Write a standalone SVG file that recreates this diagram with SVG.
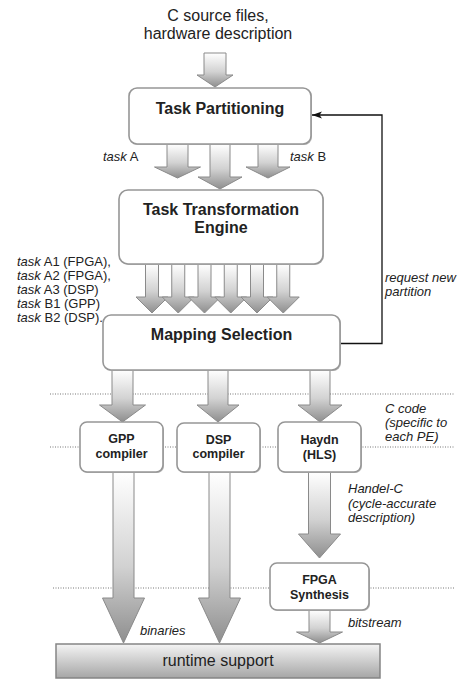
<svg xmlns="http://www.w3.org/2000/svg" width="459" height="684" viewBox="0 0 459 684">
<style>
text{font-family:"Liberation Sans",Arial,sans-serif;fill:#222}
.t16{font-size:16px;text-anchor:middle}
.b16{font-size:16px;font-weight:bold;text-anchor:middle}
.b13{font-size:12.5px;font-weight:bold;text-anchor:middle}
.lab{font-size:13px}
.it{font-style:italic}
.box{fill:#fff;stroke:#969696;stroke-width:1.6}
.shadow{fill:#b8b8b8}
.arr{fill:url(#ag);stroke:#8a8a8a;stroke-width:1}
.dot{stroke:#777;stroke-width:1;stroke-dasharray:1 1.5;fill:none}
</style>
<defs>
<linearGradient id="ag" x1="0" y1="0" x2="0" y2="1">
<stop offset="0" stop-color="#ffffff"/>
<stop offset="0.55" stop-color="#d2d2d2"/>
<stop offset="1" stop-color="#8e8e8e"/>
</linearGradient>
<linearGradient id="rg" x1="0" y1="0" x2="0" y2="1">
<stop offset="0" stop-color="#f4f4f4"/>
<stop offset="1" stop-color="#a6a6a6"/>
</linearGradient>
<marker id="ah" markerWidth="10" markerHeight="8" refX="10" refY="4" orient="auto" markerUnits="userSpaceOnUse">
<path d="M0 0.5 L10 4 L0 7.5 L2.5 4 Z" fill="#111"/>
</marker>
</defs>

<g id="separators">
<line class="dot" x1="50" y1="394" x2="455" y2="394"/>
<line class="dot" x1="50" y1="447" x2="455" y2="447"/>
<line class="dot" x1="53" y1="588" x2="455" y2="588"/>
</g>

<g id="connectors">
<path class="arr" d="M204 53 H226 V75 H233 L215 87 L197 75 H204 Z"/>
<path class="arr" d="M167 144 H188 V167 H200.5 L177.5 178 L154.5 167 H167 Z"/>
<path class="arr" d="M258 144 H278 V167 H290 L268 178 L246 167 H258 Z"/>
<path class="arr" d="M210 144 H230 V177 H242 L220 189 L198 177 H210 Z"/>
<path class="arr" d="M145.5 264 H158.5 V297 H168 L152 313 L136 297 H145.5 Z"/>
<path class="arr" d="M171.75 264 H184.75 V297 H194.25 L178.25 313 L162.25 297 H171.75 Z"/>
<path class="arr" d="M198 264 H211 V297 H220.5 L204.5 313 L188.5 297 H198 Z"/>
<path class="arr" d="M224.25 264 H237.25 V297 H246.75 L230.75 313 L214.75 297 H224.25 Z"/>
<path class="arr" d="M250.5 264 H263.5 V297 H273 L257 313 L241 297 H250.5 Z"/>
<path class="arr" d="M276.75 264 H289.75 V297 H299.25 L283.25 313 L267.25 297 H276.75 Z"/>
<path class="arr" d="M112 370 H133 V405 H145.5 L122.5 422 L99.5 405 H112 Z"/>
<path class="arr" d="M208 370 H228 V405 H239 L218 422 L197 405 H208 Z"/>
<path class="arr" d="M310 370 H330 V405 H342 L320 422 L298 405 H310 Z"/>
<path class="arr" d="M113 472 H134 V598 H144.5 L123.5 643 L102.5 598 H113 Z"/>
<path class="arr" d="M209 472 H230 V598 H240.5 L219.5 643 L198.5 598 H209 Z"/>
<path class="arr" d="M308.5 472 H330.5 V534 H340.5 L319.5 558 L298.5 534 H308.5 Z"/>
<path class="arr" d="M309 610 H330 V632 H342.5 L319.5 643 L296.5 632 H309 Z"/>
<path d="M340 343.5 H382 V115 H312" fill="none" stroke="#111" stroke-width="1.3" marker-end="url(#ah)"/>
</g>

<g id="input-label">
<text class="t16" x="218" y="21">C source files,</text>
<text class="t16" x="218" y="39">hardware description</text>
</g>

<g id="task-partitioning">
<rect class="shadow" x="130" y="89" width="182" height="56" rx="8"/>
<rect class="box" x="129" y="88" width="182" height="56" rx="8"/>
<text class="b16" x="220" y="114">Task Partitioning</text>
</g>

<g id="task-labels">
<text class="lab" x="103" y="161"><tspan class="it">task</tspan> A</text>
<text class="lab" x="290" y="161"><tspan class="it">task</tspan> B</text>
</g>

<g id="task-transformation-engine">
<rect class="shadow" x="120" y="191" width="204" height="74" rx="9"/>
<rect class="box" x="119" y="190" width="204" height="74" rx="9"/>
<text class="b16" x="221" y="215">Task Transformation</text>
<text class="b16" x="221" y="232.5">Engine</text>
</g>

<g id="subtask-labels">
<text class="lab" x="17" y="265.5"><tspan class="it">task</tspan> A1 (FPGA),</text>
<text class="lab" x="17" y="279.5"><tspan class="it">task</tspan> A2 (FPGA),</text>
<text class="lab" x="17" y="294"><tspan class="it">task</tspan> A3 (DSP)</text>
<text class="lab" x="17" y="308"><tspan class="it">task</tspan> B1 (GPP)</text>
<text class="lab" x="17" y="322"><tspan class="it">task</tspan> B2 (DSP).</text>
</g>

<g id="mapping-selection">
<rect class="shadow" x="104" y="316" width="237" height="55" rx="8"/>
<rect class="box" x="103" y="315" width="237" height="55" rx="8"/>
<text class="b16" x="221.5" y="340">Mapping Selection</text>
</g>

<g id="feedback-label">
<text class="lab it" x="385" y="282">request new</text>
<text class="lab it" x="385" y="296">partition</text>
</g>

<g id="ccode-label">
<text class="lab it" x="385" y="412.5">C code</text>
<text class="lab it" x="385" y="427">(specific to</text>
<text class="lab it" x="385" y="441">each PE)</text>
</g>

<g id="gpp-compiler">
<rect class="shadow" x="81" y="423" width="83" height="50" rx="7"/>
<rect class="box" x="80" y="422" width="83" height="50" rx="7"/>
<text class="b13" x="121.5" y="443">GPP</text>
<text class="b13" x="121.5" y="457.5">compiler</text>
</g>

<g id="dsp-compiler">
<rect class="shadow" x="178" y="424" width="83" height="49" rx="7"/>
<rect class="box" x="177" y="423" width="83" height="49" rx="7"/>
<text class="b13" x="218.5" y="443.5">DSP</text>
<text class="b13" x="218.5" y="458">compiler</text>
</g>

<g id="haydn">
<rect class="shadow" x="279" y="423" width="83" height="50" rx="7"/>
<rect class="box" x="278" y="422" width="83" height="50" rx="7"/>
<text class="b13" x="319.5" y="444">Haydn</text>
<text class="b13" x="319.5" y="458.5">(HLS)</text>
</g>

<g id="handelc-label">
<text class="lab it" x="348" y="492.5">Handel-C</text>
<text class="lab it" x="348" y="507.5">(cycle-accurate</text>
<text class="lab it" x="348" y="522">description)</text>
</g>

<g id="fpga-synthesis">
<rect class="shadow" x="271" y="564" width="99" height="47" rx="7"/>
<rect class="box" x="270" y="563" width="99" height="47" rx="7"/>
<text class="b13" x="319.5" y="584">FPGA</text>
<text class="b13" x="319.5" y="598.5">Synthesis</text>
</g>

<g id="output-labels">
<text class="lab it" x="140" y="635">binaries</text>
<text class="lab it" x="348" y="627">bitstream</text>
</g>

<g id="runtime-support">
<rect x="56" y="644" width="324" height="34" fill="url(#rg)" stroke="#858585" stroke-width="1.5"/>
<text class="t16" x="218" y="665.5">runtime support</text>
</g>
</svg>
